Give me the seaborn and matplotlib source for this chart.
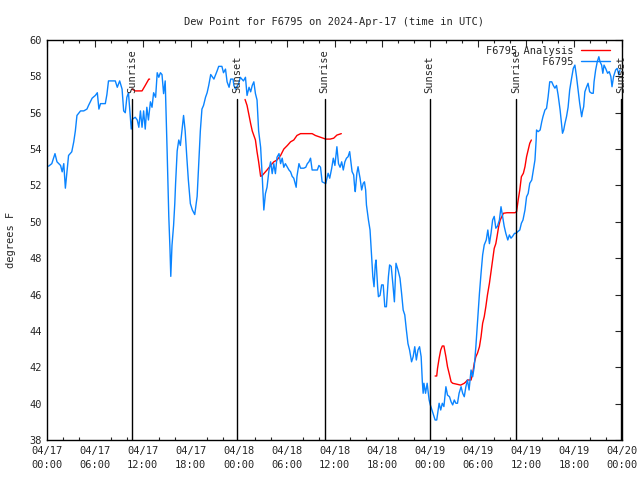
import pandas as pd
import seaborn as sns
import matplotlib.pyplot as plt

sns.set_style("white")
plt.rcParams['font.family'] = ['DejaVu Sans Mono']

# Observations F6795 (hours since 2024-04-17 00:00 UTC, dew point degF)
obs_hours = [0.2, 0.6, 1.0, 1.25, 1.7, 1.9, 2.1, 2.3, 2.5, 2.7, 3.1, 3.35, 3.55, 3.75, 4.2, 4.6, 5.0, 5.2,
             5.65, 6.05, 6.3, 6.5, 6.7, 7.3, 7.5, 7.7, 8.55, 8.8, 9.1, 9.4, 9.6, 9.8, 10.0, 10.2, 10.45,
             10.55, 10.7, 11.05, 11.3, 11.5, 11.7, 11.9, 12.1, 12.3, 12.5, 12.7, 12.95, 13.15, 13.35, 13.6,
             13.8, 14.0, 14.2, 14.4, 14.6, 14.8, 15.05, 15.25, 15.4, 15.5, 15.65, 15.85, 16.0, 16.1, 16.3,
             16.5, 16.7, 16.9, 17.1, 17.3, 17.5, 17.7, 17.95, 18.2, 18.5, 18.8, 19.0, 19.2, 19.4, 19.6,
             19.85, 20.05, 20.25, 20.5, 20.9, 21.3, 21.5, 21.9, 22.1, 22.35, 22.55, 22.8, 23.0, 23.3, 23.4,
             23.6, 24.0, 24.2, 24.6, 24.85, 25.05, 25.3, 25.5, 25.7, 25.9, 26.1, 26.3, 26.5, 26.75, 26.95,
             27.15, 27.35, 27.55, 27.8, 28.0, 28.2, 28.4, 28.6, 28.8, 29.05, 29.25, 29.45, 29.65, 29.85,
             30.1, 30.3, 30.5, 30.7, 30.9, 31.2, 31.3, 31.55, 31.75, 32.15, 32.4, 32.6, 32.8, 33.0, 33.2,
             33.6, 33.85, 34.05, 34.25, 34.45, 34.9, 35.2, 35.4, 35.65, 35.85, 36.05, 36.3, 36.5, 36.7,
             36.9, 37.1, 37.3, 37.5, 37.7, 37.9, 38.05, 38.2, 38.4, 38.5, 38.6, 38.8, 38.95, 39.05, 39.2,
             39.4, 39.6, 39.75, 39.9, 40.0, 40.25, 40.45, 40.65, 40.8, 40.95, 41.1, 41.2, 41.4, 41.5, 41.7,
             41.9, 42.1, 42.3, 42.5, 42.75, 42.9, 43.1, 43.3, 43.5, 43.7, 43.95, 44.2, 44.4, 44.6, 44.8,
             45.0, 45.2, 45.4, 45.65, 45.85, 46.05, 46.25, 46.45, 46.65, 46.85, 47.0, 47.1, 47.2, 47.4,
             47.6, 47.85, 48.0, 48.2, 48.4, 48.6, 48.8, 49.1, 49.3, 49.5, 49.7, 49.95, 50.15, 50.4, 50.6,
             50.8, 51.0, 51.2, 51.4, 51.6, 51.85, 52.05, 52.25, 52.45, 52.65, 52.85, 53.1, 53.3, 53.5,
             53.7, 53.9, 54.15, 54.35, 54.55, 54.75, 55.0, 55.2, 55.4, 55.6, 55.8, 56.0, 56.2, 56.4, 56.65,
             56.85, 57.05, 57.25, 57.45, 57.7, 57.9, 58.1, 58.3, 58.55, 58.75, 58.95, 59.2, 59.4, 59.6,
             59.85, 60.05, 60.25, 60.45, 60.7, 60.9, 61.1, 61.25, 61.3, 61.5, 61.75, 61.95, 62.1, 62.35,
             62.55, 62.75, 62.95, 63.2, 63.4, 63.6, 63.8, 64.0, 64.25, 64.45, 64.55, 64.7, 64.85, 65.05,
             65.25, 65.45, 65.65, 65.9, 66.1, 66.3, 66.5, 66.7, 66.95, 67.05, 67.2, 67.35, 67.55, 67.75,
             67.95, 68.2, 68.4, 68.5, 68.7, 68.9, 69.1, 69.25, 69.45, 69.6, 69.75, 69.95, 70.2, 70.4,
             70.6, 70.75, 70.95, 71.2, 71.4, 71.6, 71.75]
obs_dewpt = [53.06, 53.2, 53.75, 53.3, 53.1, 52.75, 53.2, 51.85, 52.75, 53.65, 53.85, 54.4, 55.0, 55.85, 56.1,
             56.1, 56.2, 56.4, 56.8, 56.95, 57.1, 56.2, 56.5, 56.5, 57.0, 57.75, 57.75, 57.4, 57.75, 57.3,
             56.1, 56.0, 56.85, 57.1, 55.65, 55.1, 55.65, 55.75, 55.6, 55.2, 56.1, 55.2, 56.1, 55.1, 56.3,
             55.6, 56.6, 56.3, 57.1, 56.85, 58.2, 57.95, 58.2, 58.1, 57.05, 57.75, 53.75, 50.3, 48.5, 47.0,
             48.7, 49.8, 51.0, 52.1, 53.9, 54.5, 54.2, 55.0, 55.85, 55.0, 53.6, 52.3, 51.0, 50.65, 50.4,
             51.4, 53.2, 55.0, 56.2, 56.4, 56.85, 57.1, 57.5, 58.1, 57.85, 58.3, 58.55, 58.55, 58.2, 58.4,
             57.7, 57.4, 57.85, 57.85, 57.5, 57.3, 57.6, 57.95, 57.75, 57.95, 56.95, 57.4, 57.15, 57.5,
             57.7, 57.05, 56.7, 55.0, 54.1, 52.5, 50.65, 51.55, 51.9, 52.85, 53.3, 52.65, 53.2, 52.65,
             53.55, 53.75, 53.2, 53.5, 53.0, 53.2, 53.0, 52.85, 52.75, 52.5, 52.4, 51.9, 52.5, 53.2, 52.95,
             52.95, 53.0, 53.2, 53.3, 53.5, 52.85, 52.85, 52.85, 53.1, 53.0, 52.2, 52.1, 52.67, 52.4, 52.95,
             53.5, 53.1, 54.13, 53.2, 53.0, 53.3, 52.85, 53.3, 53.5, 53.58, 53.86, 53.3, 52.76, 52.58,
             52.03, 51.66, 52.67, 53.03, 52.76, 52.4, 51.75, 52.12, 52.2, 51.75, 50.93, 50.1, 49.55, 48.08,
             46.98, 46.43, 47.63, 47.9, 46.43, 45.88, 45.95, 46.53, 46.53, 45.33, 45.33, 46.98, 47.63,
             47.55, 46.62, 45.6, 47.72, 47.35, 46.9, 46.07, 45.15, 44.88, 44.05, 43.3, 42.95, 42.3, 42.58,
             43.13, 42.4, 42.95, 43.13, 42.58, 41.2, 40.57, 41.12, 40.57, 41.12, 40.2, 39.93, 39.65, 39.38,
             39.1, 39.1, 40.02, 39.65, 40.02, 39.84, 40.93, 40.47, 40.38, 40.1, 39.93, 40.2, 40.02, 40.02,
             40.57, 40.93, 40.57, 40.38, 40.93, 41.3, 40.75, 41.85, 41.48, 42.03, 43.13, 44.42, 46.07,
             47.17, 48.18, 48.73, 49.0, 49.55, 48.8, 49.37, 50.1, 50.3, 49.65, 49.75, 50.1, 50.83, 50.3,
             49.75, 49.37, 49.0, 49.28, 49.1, 49.2, 49.37, 49.37, 49.46, 49.55, 49.92, 50.1, 50.65, 51.38,
             51.56, 52.12, 52.3, 52.85, 53.4, 54.5, 55.05, 54.96, 55.05, 55.5, 55.78, 56.15, 56.24, 56.88,
             57.7, 57.7, 57.5, 57.35, 57.5, 56.98, 56.15, 55.33, 54.87, 55.05, 55.4, 55.78, 56.3, 57.25,
             57.8, 58.44, 58.62, 58.0, 57.25, 56.52, 55.78, 56.05, 56.33, 57.15, 57.4, 57.62, 57.15, 57.07,
             57.07, 57.7, 58.35, 58.8, 59.08, 58.8, 58.62, 58.17, 58.62, 58.44, 58.17, 58.26, 58.0, 57.43,
             58.0, 58.35, 58.44, 58.08, 58.35]

# Analysis, three daytime segments
ana_seg = [1] * 6 + [2] * 31 + [3] * 50
ana_hours = [10.65, 11.05, 11.9, 12.3, 12.75, 12.85,
             24.8, 25.05, 25.3, 25.5, 25.7, 25.9, 26.1, 26.3, 26.5, 26.75, 26.95, 27.15, 27.55, 28.0, 28.4,
             28.8, 29.25, 29.65, 30.1, 30.5, 30.9, 31.3, 31.75, 33.2, 33.6, 34.25, 34.9, 35.45, 35.9, 36.3,
             36.85,
             48.6, 48.8, 48.9, 49.1, 49.3, 49.5, 49.7, 49.95, 50.15, 50.4, 50.6, 50.8, 51.4, 51.8, 52.25,
             52.45, 52.65, 53.1, 53.3, 53.5, 53.7, 53.9, 54.15, 54.35, 54.55, 54.75, 54.95, 55.15, 55.4,
             55.6, 55.8, 56.0, 56.2, 56.35, 56.55, 56.75, 56.95, 57.15, 57.6, 58.6, 58.8, 59.0, 59.2, 59.4,
             59.65, 59.85, 60.05, 60.25, 60.45, 60.65]
ana_dewpt = [57.3, 57.2, 57.2, 57.5, 57.85, 57.85,
             56.73, 56.4, 55.85, 55.4, 55.0, 54.75, 54.5, 53.85, 53.3, 52.5, 52.55, 52.65, 52.85, 53.1, 53.3,
             53.4, 53.65, 54.0, 54.2, 54.4, 54.5, 54.75, 54.85, 54.85, 54.75, 54.65, 54.55, 54.55, 54.6,
             54.77, 54.85,
             41.52, 41.52, 41.94, 42.49, 42.95, 43.17, 43.17, 42.58, 42.03, 41.58, 41.2, 41.12, 41.06, 41.02,
             41.12, 41.2, 41.3, 41.3, 41.67, 42.22, 42.58, 42.77, 43.13, 43.68, 44.42, 44.78, 45.33, 45.97,
             46.62, 47.26, 47.9, 48.54, 48.8, 49.18, 49.73, 50.1, 50.28, 50.47, 50.5, 50.5, 50.56, 51.2,
             51.75, 52.48, 52.67, 53.03, 53.58, 53.95, 54.32, 54.5]

sun_hours = [10.7, 23.85, 34.75, 47.9, 58.7, 71.9]
sun_labels = ["Sunrise", "Sunset", "Sunrise", "Sunset", "Sunrise", "Sunset"]

tick_hours = list(range(0, 73, 6))
tick_labels = ["04/17\n00:00", "04/17\n06:00", "04/17\n12:00", "04/17\n18:00",
               "04/18\n00:00", "04/18\n06:00", "04/18\n12:00", "04/18\n18:00",
               "04/19\n00:00", "04/19\n06:00", "04/19\n12:00", "04/19\n18:00",
               "04/20\n00:00"]

obs = pd.DataFrame({"hour": obs_hours, "dewpt": obs_dewpt})
ana = pd.DataFrame({"hour": ana_hours, "dewpt": ana_dewpt, "seg": ana_seg})

fig = plt.figure(figsize=(6.4, 4.8), dpi=100)
ax = fig.add_axes([47 / 640, 40 / 480, 575 / 640, 400 / 480])

blue = "#0a84ff"
red = "#ff0000"
sns.lineplot(data=ana, x="hour", y="dewpt", units="seg", estimator=None, color=red, lw=1, ax=ax)
sns.lineplot(data=obs, x="hour", y="dewpt", estimator=None, color=blue, lw=1, ax=ax)

# sunrise / sunset markers
for h, lab in zip(sun_hours, sun_labels):
    ax.plot([h, h], [38, 56.75], color="black", lw=1)
    ax.text(h, 57.1, lab, rotation=90, ha="center", va="bottom", fontsize=7.5, clip_on=False)

ax.set_xlim(0, 72)
ax.set_ylim(38, 60)
ax.set_xticks(tick_hours)
ax.set_xticklabels(tick_labels, linespacing=1.5)
ax.set_xticks(range(0, 73, 2), minor=True)
ax.set_yticks(range(38, 61, 2))
ax.tick_params(which="major", direction="in", length=5, width=0.8, top=True, right=True,
               labelsize=7.5, pad=4)
ax.tick_params(which="minor", direction="in", length=2.5, width=0.8, top=True, bottom=True)
for s in ax.spines.values():
    s.set_color("black")
    s.set_linewidth(1)

ax.set_xlabel("")
ax.set_ylabel("degrees F", fontsize=7.5, labelpad=9)
ax.set_title("Dew Point for F6795 on 2024-Apr-17 (time in UTC)", fontsize=7.5, pad=11)

handles = [plt.Line2D([], [], color=red, lw=1), plt.Line2D([], [], color=blue, lw=1)]
ax.legend(handles, ["F6795 Analysis", "         F6795"], loc="upper right", frameon=False,
          markerfirst=False, fontsize=7.5, handlelength=2.8, handletextpad=0.7,
          labelspacing=0.1, borderpad=0, borderaxespad=0,
          bbox_to_anchor=(1 - 12 / 575, 1 - 6 / 400))

fig.savefig("out.png", dpi=100)
